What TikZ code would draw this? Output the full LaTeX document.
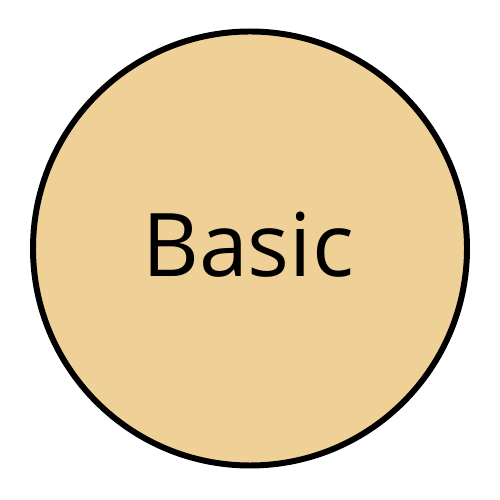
\documentclass[tikz,border=0pt]{standalone}
\usepackage{fontspec}
\setmainfont{Open Sans}
\definecolor{basicfill}{HTML}{EFD096}

\begin{document}
\begin{tikzpicture}[
    x=1cm,
    y=1cm,
    disk/.style={draw=black, line width=3.4pt, fill=basicfill},
    label/.style={font=\fontsize{50}{60}\selectfont, inner sep=0pt, anchor=base}
  ]
    \useasboundingbox (0,0) rectangle (10,10);
    \node[disk, circle, minimum size=8.68cm, inner sep=0pt] (basic) at (5.0,5.03) {};
    \node[label] (name) at (4.96,4.46) {Basic};
  \end{tikzpicture}
\end{document}
